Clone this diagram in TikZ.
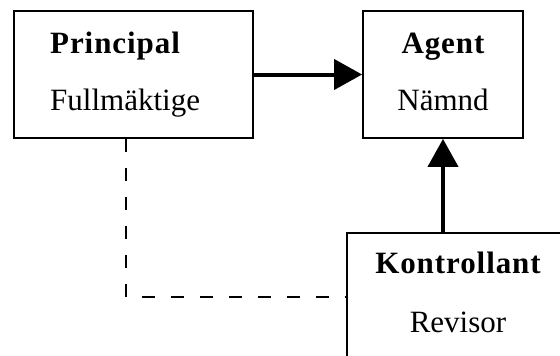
\documentclass[tikz,border=0pt]{standalone}
\usepackage{fontspec}
\setmainfont{Liberation Serif}[BoldFeatures={LetterSpace=3}]
\usetikzlibrary{arrows.meta}
\tikzset{
  box/.style={draw=black, line width=1.8pt, minimum width=#1, inner sep=0pt},
  bold/.style={font=\fontsize{31}{31}\selectfont\bfseries, inner sep=0pt},
  plain/.style={font=\fontsize{31}{31}\selectfont, inner sep=0pt},
  conn/.style={line width=4pt, -{Triangle[length=28pt, width=30pt]}},
  dashline/.style={line width=1.8pt, dash pattern=on 13pt off 16pt}
}
\begin{document}
\begin{tikzpicture}[x=1pt, y=-1pt]
\fill[white] (0,0) rectangle (560,356);
\useasboundingbox (0,0) rectangle (560,356);
\clip (0,0) rectangle (560,356);
\node[box=239pt, minimum height=127pt] (P) at (133.5,74.5) {};
\node[box=160pt, minimum height=127pt] (A) at (443,74.5) {};
\node[box=222pt, minimum height=157pt] (K) at (458,311.5) {};
\node[bold, anchor=base west] (Pt) at (50,53) {Principal};
\node[plain, anchor=base west] (Ps) at (50,110) {Fullmäktige};
\node[bold, anchor=base] (At) at (443,53) {Agent};
\node[plain, anchor=base] (As) at (443,110) {Nämnd};
\node[bold, anchor=base] (Kt) at (458,273) {Kontrollant};
\node[plain, anchor=base] (Ks) at (458,332) {Revisor};
\draw[conn] (P.east) -- (A.west);
\draw[conn] (A.south |- K.north) -- (A.south);
\coordinate (d) at (126,297);
\draw[dashline] (d |- P.south) -- (d) -- (d -| K.west);
\end{tikzpicture}
\end{document}
